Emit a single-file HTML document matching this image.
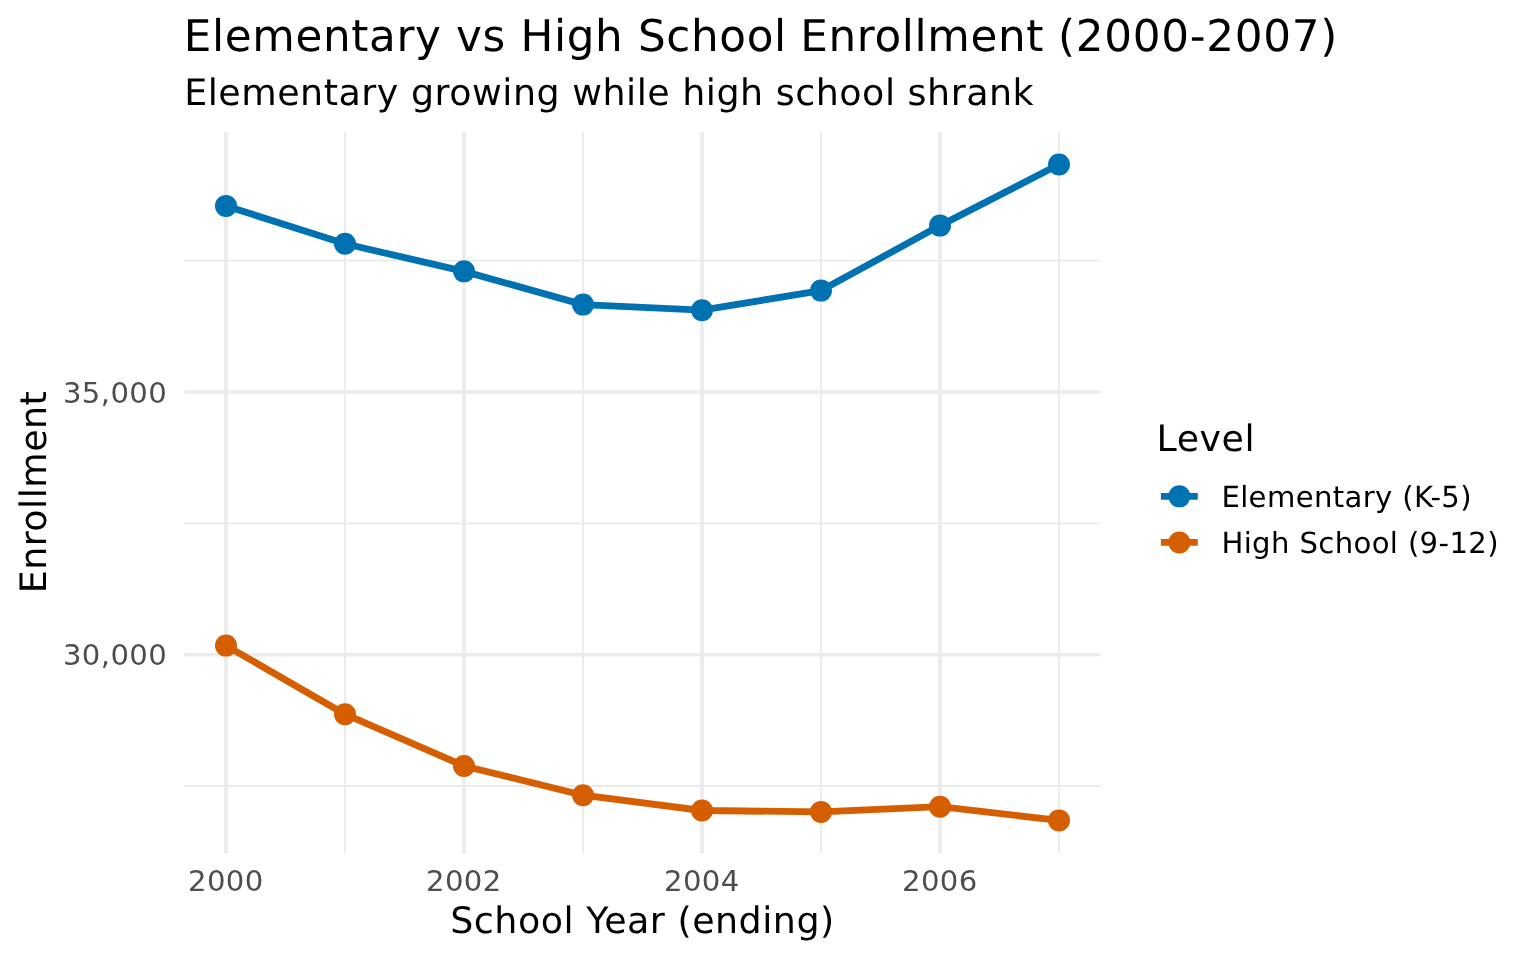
<!DOCTYPE html>
<html lang="en"><head><meta charset="utf-8"><title>Elementary vs High School Enrollment (2000-2007)</title>
<style>
html,body{margin:0;padding:0;background:#fff;}
body{width:1536px;height:960px;overflow:hidden;}
svg{display:block;}
text{font-family:"DejaVu Sans","Liberation Sans",sans-serif;text-rendering:geometricPrecision;fill:#000;}
.grid line{stroke:#ebebeb;}
.tick{fill:#4d4d4d;text-rendering:auto;}
</style></head><body>
<svg width="1536" height="960" viewBox="0 0 1536 960">
<rect width="1536" height="960" fill="#ffffff"/>

<g class="grid">
<line x1="184.3" x2="1100.65" y1="260.7" y2="260.7" stroke-width="1.82"/>
<line x1="184.3" x2="1100.65" y1="523.4" y2="523.4" stroke-width="1.82"/>
<line x1="184.3" x2="1100.65" y1="786.0" y2="786.0" stroke-width="1.82"/>
<line x1="345" x2="345" y1="132" y2="853.3" stroke-width="1.82"/>
<line x1="583" x2="583" y1="132" y2="853.3" stroke-width="1.82"/>
<line x1="821" x2="821" y1="132" y2="853.3" stroke-width="1.82"/>
<line x1="1059" x2="1059" y1="132" y2="853.3" stroke-width="1.82"/>
<line x1="184.3" x2="1100.65" y1="392.05" y2="392.05" stroke-width="3.64"/>
<line x1="184.3" x2="1100.65" y1="654.8" y2="654.8" stroke-width="3.64"/>
<line x1="226" x2="226" y1="132" y2="853.3" stroke-width="3.64"/>
<line x1="464" x2="464" y1="132" y2="853.3" stroke-width="3.64"/>
<line x1="702" x2="702" y1="132" y2="853.3" stroke-width="3.64"/>
<line x1="940" x2="940" y1="132" y2="853.3" stroke-width="3.64"/>
</g>
<polyline points="226,205.9 345,243.75 464,271.35 583,304.6 702,310.2 821,290.6 940,225.6 1059,164.5" fill="none" stroke="#0072B2" stroke-width="6.83" stroke-linejoin="round" stroke-linecap="butt"/>
<polyline points="226,645.6 345,714.2 464,766.0 583,795.2 702,810.5 821,811.9 940,806.7 1059,820.4" fill="none" stroke="#D55E00" stroke-width="6.83" stroke-linejoin="round" stroke-linecap="butt"/>
<circle cx="226" cy="205.9" r="11" fill="#0072B2"/>
<circle cx="345" cy="243.75" r="11" fill="#0072B2"/>
<circle cx="464" cy="271.35" r="11" fill="#0072B2"/>
<circle cx="583" cy="304.6" r="11" fill="#0072B2"/>
<circle cx="702" cy="310.2" r="11" fill="#0072B2"/>
<circle cx="821" cy="290.6" r="11" fill="#0072B2"/>
<circle cx="940" cy="225.6" r="11" fill="#0072B2"/>
<circle cx="1059" cy="164.5" r="11" fill="#0072B2"/>
<circle cx="226" cy="645.6" r="11" fill="#D55E00"/>
<circle cx="345" cy="714.2" r="11" fill="#D55E00"/>
<circle cx="464" cy="766.0" r="11" fill="#D55E00"/>
<circle cx="583" cy="795.2" r="11" fill="#D55E00"/>
<circle cx="702" cy="810.5" r="11" fill="#D55E00"/>
<circle cx="821" cy="811.9" r="11" fill="#D55E00"/>
<circle cx="940" cy="806.7" r="11" fill="#D55E00"/>
<circle cx="1059" cy="820.4" r="11" fill="#D55E00"/>
<text transform="translate(183.8,51)" font-size="43.68" letter-spacing="0.64">Elementary vs High School <tspan dx="-1.1">Enrollment </tspan><tspan dx="-0.6" letter-spacing="0.72">(2000-2007)</tspan></text>
<text transform="translate(184.2,105.0)" font-size="36.40" letter-spacing="0.516">Elementary growing while high school shrank</text>
<text transform="translate(167.15,403)" class="tick" text-anchor="end" font-size="29.12" letter-spacing="0.4">35,000</text>
<text transform="translate(167.15,664.75)" class="tick" text-anchor="end" font-size="29.12" letter-spacing="0.4">30,000</text>
<text transform="translate(225.8,891)" class="tick" text-anchor="middle" font-size="29.12" letter-spacing="0.4">2000</text>
<text transform="translate(463.8,891)" class="tick" text-anchor="middle" font-size="29.12" letter-spacing="0.4">2002</text>
<text transform="translate(701.8,891)" class="tick" text-anchor="middle" font-size="29.12" letter-spacing="0.4">2004</text>
<text transform="translate(939.8,891)" class="tick" text-anchor="middle" font-size="29.12" letter-spacing="0.4">2006</text>
<text transform="translate(642.5,933)" text-anchor="middle" font-size="36.40" letter-spacing="0.516">School Year (ending)</text>
<text transform="translate(46,492) rotate(-90)" text-anchor="middle" font-size="36.40" letter-spacing="0.47">Enrollment</text>
<text transform="translate(1156.5,451)" font-size="36.40" letter-spacing="0.516">Level</text>
<line x1="1160.9" x2="1197.8" y1="496.35" y2="496.35" stroke="#0072B2" stroke-width="6.83"/>
<circle cx="1179.35" cy="496.35" r="11" fill="#0072B2"/>
<text transform="translate(1221.4,507.0)" font-size="29.12" letter-spacing="0.37">Elementary (K-5)</text>
<line x1="1160.9" x2="1197.8" y1="542.43" y2="542.43" stroke="#D55E00" stroke-width="6.83"/>
<circle cx="1179.35" cy="542.43" r="11" fill="#D55E00"/>
<text transform="translate(1221.4,553.0799999999999)" font-size="29.12" letter-spacing="0.37">High School (9-12)</text>
</svg></body></html>
